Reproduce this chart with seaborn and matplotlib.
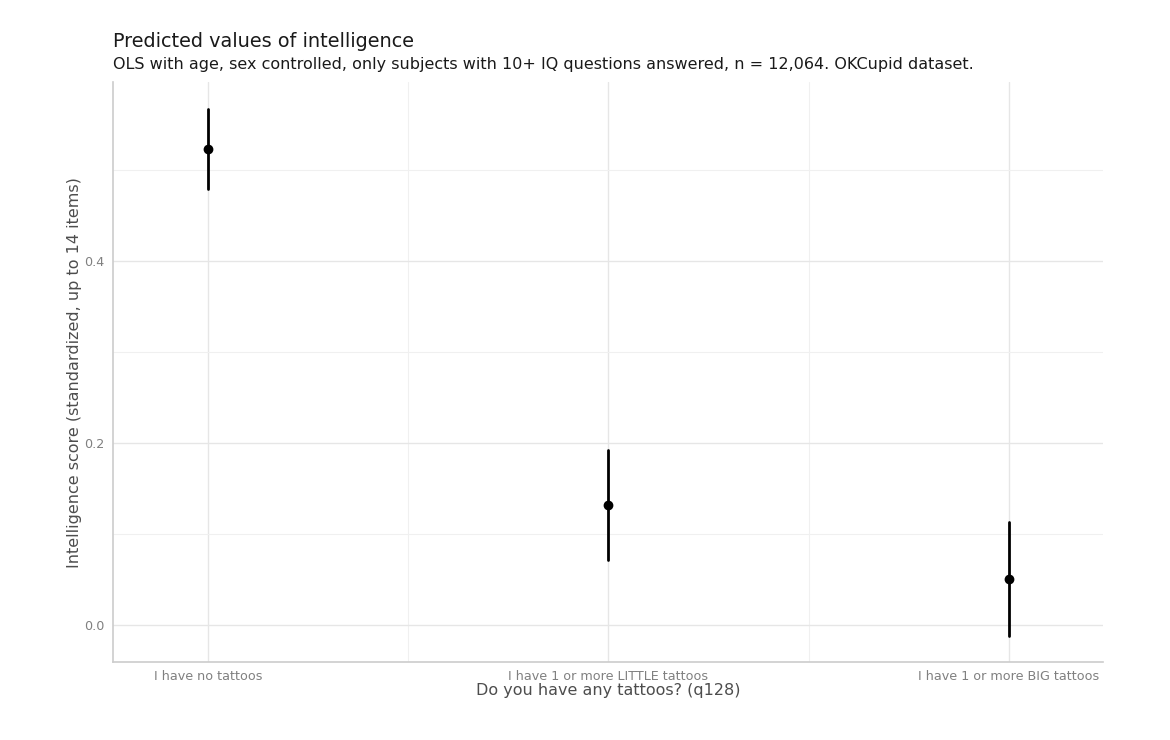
import matplotlib
matplotlib.use("Agg")
import matplotlib.pyplot as plt
import numpy as np
import pandas as pd
import seaborn as sns

# values
categories = ["I have no tattoos", "I have 1 or more LITTLE tattoos", "I have 1 or more BIG tattoos"]
estimate = [0.524, 0.132, 0.0505]
ci_low = [0.480, 0.071, -0.012]
ci_high = [0.568, 0.192, 0.113]

# long table: median of (low, est, high) = est, min-max interval = CI
rows = []
for c, lo, est, hi in zip(categories, ci_low, estimate, ci_high):
    for v in (lo, est, hi):
        rows.append({"tattoos": c, "score": v})
df = pd.DataFrame(rows)

sns.set_style("white")
plt.rcParams["font.family"] = ["DejaVu Sans"]

fig = plt.figure(figsize=(11.7, 7.4), dpi=100)
ax = fig.add_axes([0.0966, 0.1054, 0.8461, 0.7836])

sns.pointplot(data=df, x="tattoos", y="score", order=categories,
              estimator="median", errorbar=("pi", 100),
              color="black", linestyle="none", markersize=5,
              err_kws={"linewidth": 2}, ax=ax)

ax.set_xlim(-0.237, 2.235)
ax.set_ylim(-0.0407, 0.597)
ax.set_yticks([0.0, 0.2, 0.4])
ax.set_yticklabels(["0.0", "0.2", "0.4"])
ax.set_yticks([0.1, 0.3, 0.5], minor=True)
ax.set_xticks([0.5, 1.5], minor=True)

ax.grid(True, which="major", color="#e6e6e6", linewidth=1.0)
ax.grid(True, which="minor", color="#f0f0f0", linewidth=0.8)
ax.set_axisbelow(True)

for s in ["top", "right"]:
    ax.spines[s].set_visible(False)
for s in ["left", "bottom"]:
    ax.spines[s].set_color("#cccccc")
    ax.spines[s].set_linewidth(1.2)

ax.tick_params(axis="both", which="both", length=0, labelsize=9.2, labelcolor="#808080", pad=6)
ax.set_xlabel("Do you have any tattoos? (q128)", fontsize=11.5, color="#4d4d4d", labelpad=0)
ax.set_ylabel("Intelligence score (standardized, up to 14 items)", fontsize=11.5, color="#4d4d4d", labelpad=2)

fig.text(0.0966, 0.9365, "Predicted values of intelligence", fontsize=13.9, color="#1a1a1a", va="baseline")
fig.text(0.0966, 0.9065, "OLS with age, sex controlled, only subjects with 10+ IQ questions answered, n = 12,064. OKCupid dataset.",
         fontsize=11.55, color="#1a1a1a", va="baseline")

fig.savefig("out.png", dpi=100, facecolor="white")
